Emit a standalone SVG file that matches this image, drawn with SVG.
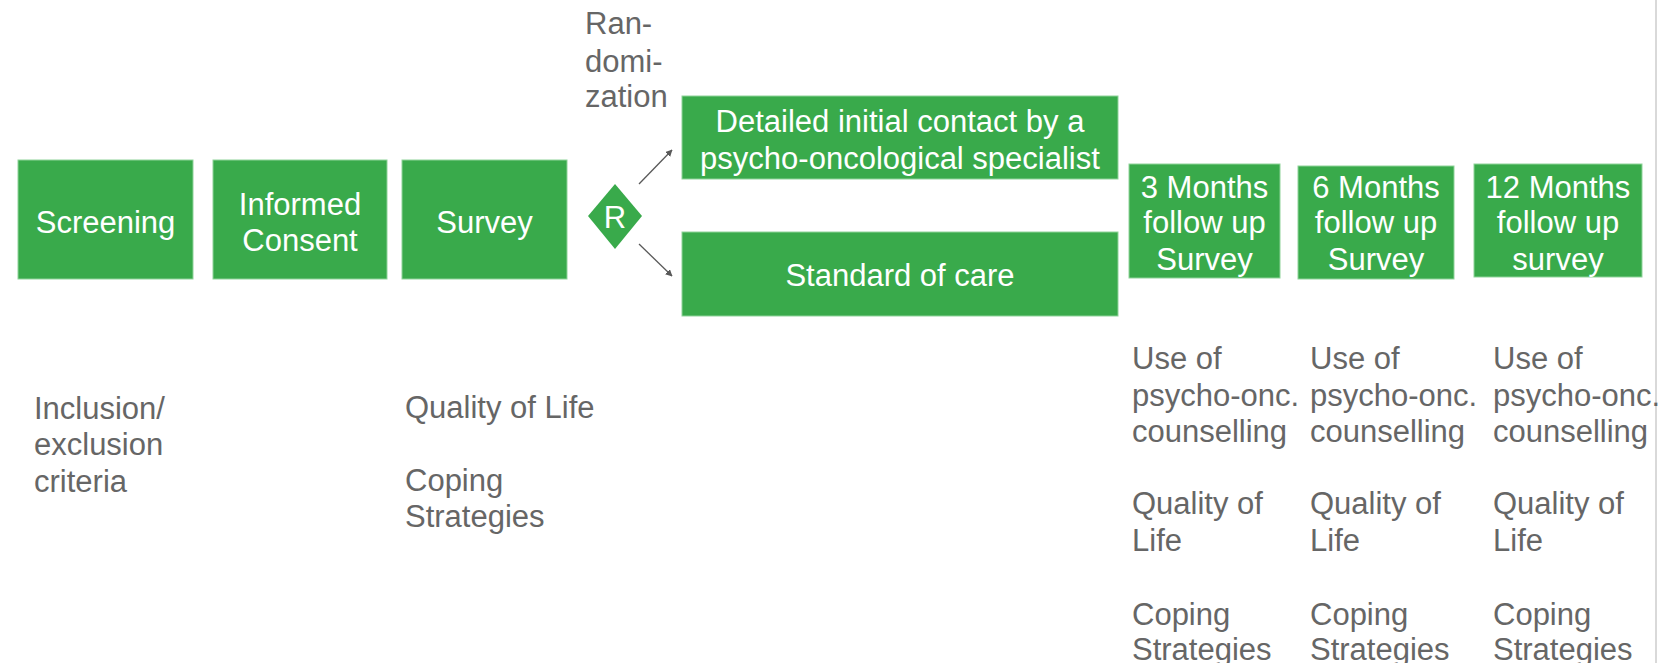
<svg xmlns="http://www.w3.org/2000/svg" width="1678" height="663" viewBox="0 0 1678 663">
<style>
.box{fill:#39AA4B;stroke:#8fd39a;stroke-width:1}
.wt{font-family:"Liberation Sans",Arial,sans-serif;font-size:31px;fill:#ffffff;text-anchor:middle}
.gt{font-family:"Liberation Sans",Arial,sans-serif;font-size:31px;fill:#666666}
.conn{stroke:#595959;stroke-width:1.3;fill:none}
</style>
<defs>
<marker id="ah" viewBox="0 0 10 10" refX="9" refY="5" markerWidth="7" markerHeight="7" orient="auto" markerUnits="userSpaceOnUse">
<path d="M0,0 L10,5 L0,10 z" fill="#595959"/>
</marker>
</defs>
<rect width="1678" height="663" fill="#ffffff"/>
<line x1="1656" y1="0" x2="1656" y2="663" stroke="#d9d9d9" stroke-width="2"/>

<g id="screening">
<rect class="box" x="18" y="160" width="175" height="119"/>
<text class="wt" x="105.5" y="233">Screening</text>
</g>
<g id="consent">
<rect class="box" x="213" y="160" width="174" height="119"/>
<text class="wt" x="300" y="215">Informed</text>
<text class="wt" x="300" y="251">Consent</text>
</g>
<g id="survey">
<rect class="box" x="402" y="160" width="165" height="119"/>
<text class="wt" x="484.5" y="233">Survey</text>
</g>
<g id="randomization">
<polygon points="615,184 642,216 615,249 588,216" fill="#39AA4B"/>
<text class="wt" x="615" y="228">R</text>
<text class="gt" x="585" y="34">Ran-</text>
<text class="gt" x="585" y="72">domi-</text>
<text class="gt" x="585" y="107">zation</text>
</g>
<g id="intervention">
<rect class="box" x="682" y="96" width="436" height="83"/>
<text class="wt" x="900" y="132">Detailed initial contact by a</text>
<text class="wt" x="900" y="169">psycho-oncological specialist</text>
</g>
<g id="standard">
<rect class="box" x="682" y="232" width="436" height="84"/>
<text class="wt" x="900" y="286">Standard of care</text>
</g>
<g id="fu3">
<rect class="box" x="1129" y="164" width="151" height="114"/>
<text class="wt" x="1204.5" y="198">3 Months</text>
<text class="wt" x="1204.5" y="233">follow up</text>
<text class="wt" x="1204.5" y="270">Survey</text>
</g>
<g id="fu6">
<rect class="box" x="1298" y="166" width="156" height="113"/>
<text class="wt" x="1376" y="198">6 Months</text>
<text class="wt" x="1376" y="233">follow up</text>
<text class="wt" x="1376" y="270">Survey</text>
</g>
<g id="fu12">
<rect class="box" x="1474" y="164" width="168" height="113"/>
<text class="wt" x="1558" y="198">12 Months</text>
<text class="wt" x="1558" y="233">follow up</text>
<text class="wt" x="1558" y="270">survey</text>
</g>

<g id="notes-screening">
<text class="gt" x="34" y="419">Inclusion/</text>
<text class="gt" x="34" y="455">exclusion</text>
<text class="gt" x="34" y="492">criteria</text>
</g>
<g id="notes-survey">
<text class="gt" x="405" y="418">Quality of Life</text>
<text class="gt" x="405" y="491">Coping</text>
<text class="gt" x="405" y="527">Strategies</text>
</g>
<g id="notes-fu3">
<text class="gt" x="1132" y="369">Use of</text>
<text class="gt" x="1132" y="406">psycho-onc.</text>
<text class="gt" x="1132" y="442">counselling</text>
<text class="gt" x="1132" y="514">Quality of</text>
<text class="gt" x="1132" y="551">Life</text>
<text class="gt" x="1132" y="625">Coping</text>
<text class="gt" x="1132" y="660">Strategies</text>
</g>
<g id="notes-fu6">
<text class="gt" x="1310" y="369">Use of</text>
<text class="gt" x="1310" y="406">psycho-onc.</text>
<text class="gt" x="1310" y="442">counselling</text>
<text class="gt" x="1310" y="514">Quality of</text>
<text class="gt" x="1310" y="551">Life</text>
<text class="gt" x="1310" y="625">Coping</text>
<text class="gt" x="1310" y="660">Strategies</text>
</g>
<g id="notes-fu12">
<text class="gt" x="1493" y="369">Use of</text>
<text class="gt" x="1493" y="406">psycho-onc.</text>
<text class="gt" x="1493" y="442">counselling</text>
<text class="gt" x="1493" y="514">Quality of</text>
<text class="gt" x="1493" y="551">Life</text>
<text class="gt" x="1493" y="625">Coping</text>
<text class="gt" x="1493" y="660">Strategies</text>
</g>

<g id="connectors">
<line class="conn" x1="639" y1="184" x2="672" y2="150" marker-end="url(#ah)"/>
<line class="conn" x1="639" y1="244" x2="672" y2="276" marker-end="url(#ah)"/>
</g>
</svg>
